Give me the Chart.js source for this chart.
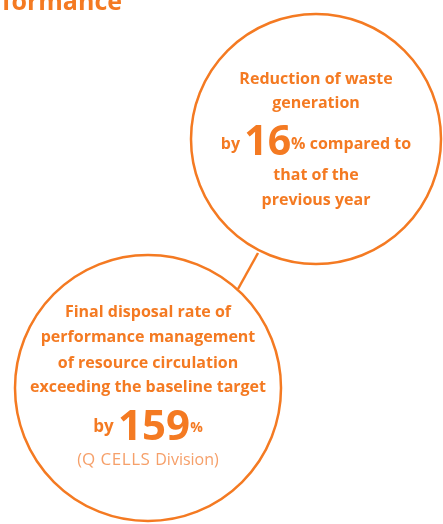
<!DOCTYPE html>
<html lang="en">
<head>
  <meta charset="UTF-8" />
  <title>Resource circulation performance</title>
  <script src="https://cdn.jsdelivr.net/npm/chart.js"></script>
  <style>
    body { margin: 0; background: #fff; overflow: hidden; }
    #wrap { position: relative; width: 443px; height: 524px; }
  </style>
</head>
<body>
<div id="wrap">
  <canvas id="bubbles" width="443" height="524"></canvas>
</div>
<script>
  // circles: centre (x, y) and radius, in page units
  const circleX = [316, 148];
  const circleY = [139, 388];
  const circleR = [125, 133];

  // the short link between the two circles
  const linkX = [258, 238];
  const linkY = [253, 289];

  // text inside each circle
  const topLines = ['Reduction of waste', 'generation', null, 'that of the', 'previous year'];
  const bottomLines = ['Final disposal rate of', 'performance management', 'of resource circulation', 'exceeding the baseline target', null, null];
  const highlights = ['16', '159'];
  const title = 'Performance';

  // text baselines (layout only)
  const topLineY = [84, 108, 150, 180, 205];
  const bottomLineY = [317, 342, 368, 392, 440, 460];

  const orange = '#f47a22';
  const lightOrange = '#f6a06a';
  const font = '"Open Sans", sans-serif';

  const textPlugin = {
    id: 'circleText',
    afterDatasetsDraw(chart) {
      const { ctx, scales } = chart;
      const px = v => scales.x.getPixelForValue(v);
      const py = v => scales.y.getPixelForValue(v);

      ctx.save();
      ctx.fillStyle = orange;
      ctx.textBaseline = 'alphabetic';

      // cut off heading at the top
      ctx.font = `bold 25px ${font}`;
      ctx.textAlign = 'right';
      ctx.fillText(title, 122, 10);

      ctx.textAlign = 'center';
      ctx.font = `bold 16px ${font}`;

      topLines.forEach((t, i) => {
        if (t) ctx.fillText(t, px(circleX[0]), py(topLineY[i]));
      });
      bottomLines.forEach((t, i) => {
        if (t) ctx.fillText(t, px(circleX[1]), py(bottomLineY[i]));
      });

      // mixed-size lines: measure, then lay out left to right
      function mixed(parts, cx, base) {
        let total = 0;
        parts.forEach(p => {
          ctx.font = p.f;
          ctx.letterSpacing = p.ls || '0px';
          p.w = ctx.measureText(p.t).width;
          total += p.w;
        });
        let x = cx - total / 2;
        ctx.textAlign = 'left';
        parts.forEach(p => {
          ctx.font = p.f;
          ctx.letterSpacing = p.ls || '0px';
          ctx.fillStyle = p.c || orange;
          ctx.fillText(p.t, x, base + (p.dy || 0));
          x += p.w;
        });
        ctx.letterSpacing = '0px';
        ctx.textAlign = 'center';
      }

      mixed([
        { t: 'by ', f: `bold 16px ${font}`, dy: -6 },
        { t: highlights[0], f: `bold 41px ${font}` },
        { t: '% compared to', f: `bold 16px ${font}`, dy: -6 }
      ], px(circleX[0]), py(topLineY[2]) + 5);

      mixed([
        { t: 'by ', f: `bold 17px ${font}`, dy: -8 },
        { t: highlights[1], f: `bold 42px ${font}` },
        { t: '%', f: `bold 14px ${font}`, dy: -8 }
      ], px(circleX[1]), py(bottomLineY[4]));

      mixed([
        { t: '(', f: `16px ${font}`, c: lightOrange },
        { t: 'Q CELLS ', f: `17px ${font}`, c: lightOrange, ls: '0.5px' },
        { t: 'Division)', f: `16px ${font}`, c: lightOrange }
      ], px(circleX[1]), py(bottomLineY[5]) + 5);

      ctx.restore();
    }
  };

  new Chart(document.getElementById('bubbles'), {
    data: {
      datasets: [
        {
          type: 'line',
          data: linkX.map((x, i) => ({ x: x, y: linkY[i] })),
          borderColor: orange,
          borderWidth: 2.5,
          pointRadius: 0,
          clip: false,
          order: 2
        },
        {
          type: 'bubble',
          data: circleX.map((x, i) => ({ x: x, y: circleY[i], r: circleR[i] })),
          backgroundColor: 'rgba(255,255,255,0)',
          borderColor: orange,
          borderWidth: 2.5,
          hoverRadius: 0,
          clip: false,
          order: 1
        }
      ]
    },
    options: {
      responsive: false,
      animation: false,
      devicePixelRatio: 1,
      layout: { padding: 0, autoPadding: false },
      plugins: { legend: { display: false }, tooltip: { enabled: false } },
      events: [],
      scales: {
        x: { type: 'linear', min: 0, max: 443, display: false },
        y: { type: 'linear', min: 0, max: 524, reverse: true, display: false }
      }
    },
    plugins: [textPlugin]
  });
</script>
</body>
</html>
